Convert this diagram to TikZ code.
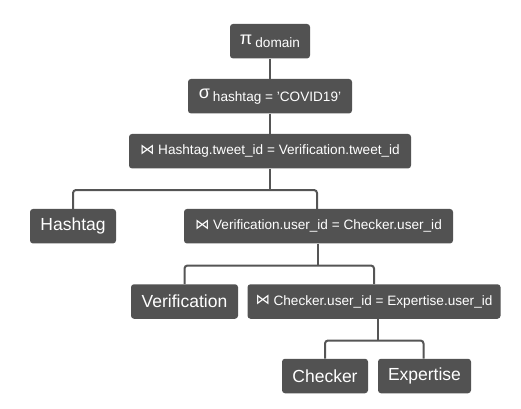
\documentclass[tikz,border=0pt]{standalone}
\usepackage{fontspec}
\setmainfont{Liberation Sans}
\newfontfamily\symfont{DejaVu Sans}
\definecolor{boxfill}{RGB}{82,82,82}
\definecolor{linecol}{RGB}{85,85,85}
\newcommand{\bigsym}[1]{{\fontsize{18}{18}\selectfont #1}}
\newcommand{\subtxt}[1]{\raisebox{-3pt}{\fontsize{13.6}{14}\selectfont #1}}
\newcommand{\joinsym}{\raisebox{0.5pt}{\symfont\fontsize{14.5}{15}\selectfont ⋈}}
\newcommand{\jtxt}[1]{\joinsym\hspace{3.5pt}{\fontsize{13.6}{14}\selectfont #1}}
\begin{document}
\begin{tikzpicture}[x=1pt,y=-1pt,
  opbox/.style={fill=boxfill, text=white, rounded corners=3pt, inner sep=0pt,
    minimum height=34.5pt, anchor=center, font=\fontsize{17.5}{18}\selectfont},
  conn/.style={draw=linecol, line width=2pt, rounded corners=3pt}]
\useasboundingbox (0,0) rectangle (521,408);
\node[opbox, minimum width=80pt]  (pi)    at (270,41.2)  {\bigsym{π}\hspace{3pt}\subtxt{domain}};
\node[opbox, minimum width=164pt] (sigma) at (270,96.2)  {\bigsym{σ}\hspace{3pt}\subtxt{hashtag = 'COVID19'}};
\node[opbox, minimum width=282pt] (j1)    at (270,151.2) {\jtxt{Hashtag.tweet\_id = Verification.tweet\_id}};
\node[opbox, minimum width=86pt]  (hash)  at (73,226.2)  {Hashtag};
\node[opbox, minimum width=269pt] (j2)    at (318.5,226.2) {\jtxt{Verification.user\_id = Checker.user\_id}};
\node[opbox, minimum width=107pt] (ver)   at (184.5,301.5) {Verification};
\node[opbox, minimum width=253pt] (j3)    at (374,301.5) {\jtxt{Checker.user\_id = Expertise.user\_id}};
\node[opbox, minimum width=86pt]  (chk)   at (325,376) {Checker};
\node[opbox, minimum width=93pt]  (exp)   at (424.5,376) {Expertise};
\coordinate (b1) at (0,190);
\coordinate (b2) at (0,265.5);
\coordinate (b3) at (0,340.5);
\draw[conn] (pi.south) -- (sigma.north);
\draw[conn] (sigma.south) -- (j1.north);
\draw[conn] (j1.south) -- (j1.south |- b1);
\draw[conn] (hash.north) -- (hash.north |- b1) -- ([xshift=-1.5pt]j2.north |- b1) -- ([xshift=-1.5pt]j2.north);
\draw[conn] ([xshift=-1pt]j2.south) -- ([xshift=-1pt]j2.south |- b2);
\draw[conn] (ver.north) -- (ver.north |- b2) -- (j3.north |- b2) -- (j3.north);
\draw[conn] ([xshift=3.5pt]j3.south) -- ([xshift=3.5pt]j3.south |- b3);
\draw[conn] (chk.north) -- (chk.north |- b3) -- ([xshift=-1pt]exp.north |- b3) -- ([xshift=-1pt]exp.north);
\end{tikzpicture}
\end{document}
